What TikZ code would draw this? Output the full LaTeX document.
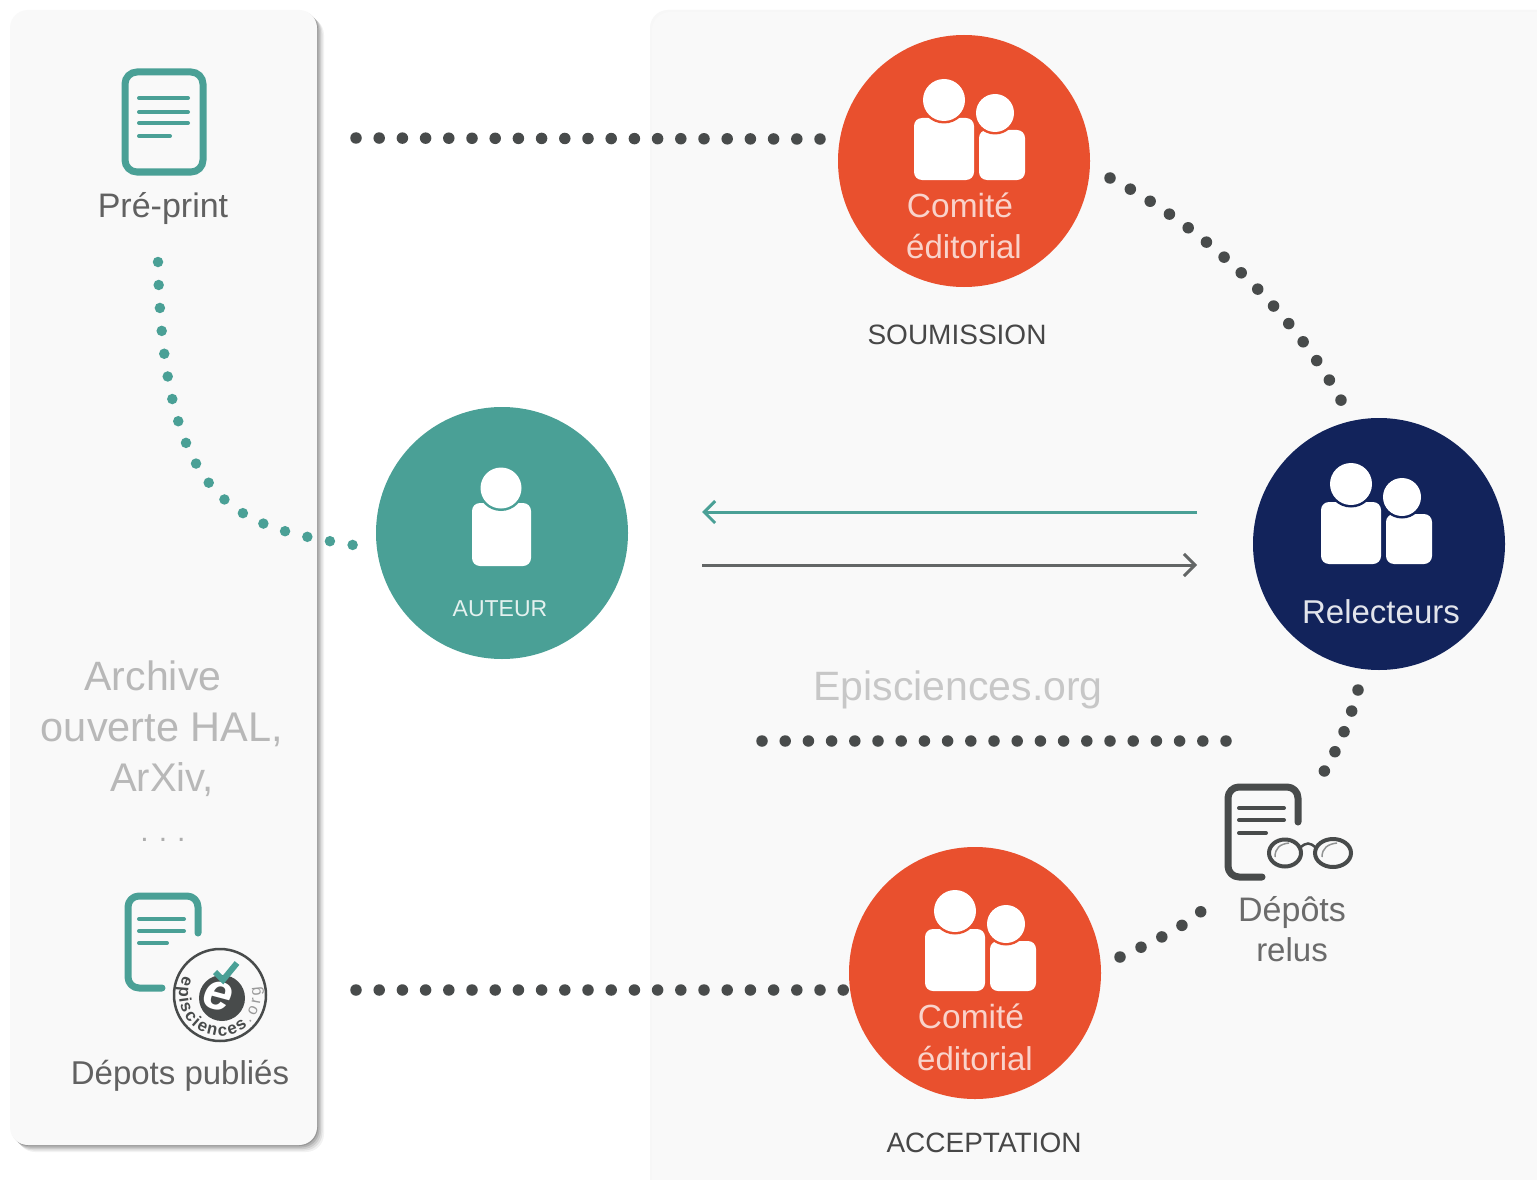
\documentclass[tikz,border=0pt]{standalone}
\usepackage{fontspec}
\setmainfont{Liberation Sans}
\usetikzlibrary{arrows.meta,decorations.text}
\definecolor{orangeC}{HTML}{E9502E}
\definecolor{tealC}{HTML}{4AA096}
\definecolor{navyC}{HTML}{12235B}
\definecolor{darkC}{HTML}{484B4B}
\definecolor{panelC}{HTML}{F9F9F9}
\tikzset{
  panel/.style={fill=panelC,rounded corners=18pt},
  disc/.style={circle,minimum size=252pt,inner sep=0pt},
  txt/.style={anchor=base,inner sep=0pt,align=center},
  dots/.style={line width=11.5pt,line cap=round,dash pattern=on 0pt off 23.2pt,draw=darkC},
  tealdots/.style={line width=10.5pt,line cap=round,dash pattern=on 0pt off 23pt,draw=tealC},
  doc/.style={line width=7pt,line cap=round,line join=round,rounded corners=11pt},
  docline/.style={line width=4pt,line cap=round},
  flow/.style={line width=3pt,-{Straight Barb[length=11pt,width=22pt,line width=3pt]}},
}
\newcommand{\fs}[1]{\fontsize{#1}{#1}\selectfont}
% two people icon, #1 = dx, #2 = dy of reference (icon of the upper committee), #3 = ground colour
\newcommand{\peopleicon}[3]{%
  \begin{scope}[shift={(#1,#2)}]
    \fill[white,rounded corners=8pt] (979,130) rectangle (1025,180);
    \fill[white,rounded corners=8pt] (914,118) rectangle (974,180);
    \fill[#3] (944,100) circle[radius=23.5pt];
    \fill[#3] (995,113) circle[radius=21.5pt];
    \fill[white] (944,100) circle[radius=21pt];
    \fill[white] (995,113) circle[radius=19pt];
  \end{scope}}
\begin{document}
\begin{tikzpicture}[x=1pt,y=-1pt]
\useasboundingbox (0,0) rectangle (1537,1180);
\fill[white] (0,0) rectangle (1537,1180);
% left panel shadow and panels
\foreach \d/\o in {7/.05,5.5/.07,4/.09,2.5/.12,1/.15}
  \fill[black,opacity=\o,rounded corners=18pt] (10+\d,10+\d) rectangle (317+\d,1145+\d);
\fill[panel] (10,10) rectangle (317,1145);
\fill[black!3,rounded corners=18pt] (650,10) rectangle (1560,1200);
\fill[panel] (652,12) rectangle (1560,1200);

% discs
\node[disc,fill=tealC] (auteur) at (502,533) {};
\node[disc,fill=orangeC] (com1) at (964,161) {};
\node[disc,fill=navyC] (rel) at (1379,544) {};
\node[disc,fill=orangeC] (com2) at (975,973) {};

% people icons
\peopleicon{0}{0}{orangeC}
\peopleicon{11}{811}{orangeC}
\peopleicon{407}{384}{navyC}
\fill[white,rounded corners=8pt] (472,503) rectangle (531,566);
\fill[tealC] (501,488) circle[radius=23pt];
\fill[white] (501,488) circle[radius=20.5pt];

% disc texts
\node[txt,text=orangeC!25!white] (t1) at (960,217) {\fs{33.5}Comité};
\node[txt,text=orangeC!25!white] (t2) at (964,258) {\fs{33}éditorial};
\node[txt,text=orangeC!25!white] (t3) at (971,1028) {\fs{33.5}Comité};
\node[txt,text=orangeC!25!white] (t4) at (975,1070) {\fs{33}éditorial};
\node[txt,text=tealC!15!white] (t5) at (500,616) {\fs{23}AUTEUR};
\node[txt,text=navyC!12!white] (t6) at (1381,623) {\fs{33}Relecteurs};

% labels
\node[txt,text=black!62] (preprint) at (163,217) {\fs{34}Pré-print};
\node[txt,text=black!72] (soum) at (957,344) {\fs{28}SOUMISSION};
\node[txt,text=black!72] (accept) at (984,1152) {\fs{28}ACCEPTATION};
\node[txt,text=black!22] (epi) at (958,700) {\fs{41}Episciences.org};
\node[txt,text=black!28] (a1) at (153,690) {\fs{41}Archive};
\node[txt,text=black!28] (a2) at (162,741) {\fs{41.5}ouverte HAL,};
\node[txt,text=black!28] (a3) at (162,791) {\fs{40}ArXiv,};
\node[txt,text=black!32] (a4) at (163,841) {\fs{30}.\,\,.\,\,.};
\node[txt,text=black!62] (pub) at (180,1084) {\fs{33}Dépots publiés};
\node[txt,text=black!58] (relus1) at (1292,921) {\fs{34}Dépôts};
\node[txt,text=black!58] (relus2) at (1292,961) {\fs{33}relus};

% pre-print icon
\draw[tealC,line width=7pt,rounded corners=12pt] (125,72) rectangle (203,172);
\foreach \yy/\xe in {98/188,112/188,123/188,136/170}
  \draw[tealC,docline] (139,\yy) -- (\xe,\yy);

% published deposit icon
\draw[tealC,doc] (198,933) -- (198,896) -- (128,896) -- (128,988) -- (162,988);
\foreach \yy/\xe in {919/184,931/184,943/167}
  \draw[tealC,docline] (139,\yy) -- (\xe,\yy);

% episciences stamp
\node[circle,draw=darkC,line width=2.5pt,fill=panelC,minimum size=92pt,inner sep=0pt] (stamp) at (220,995) {};
\fill[darkC] (222,998) circle[radius=23pt];
\node[inner sep=0pt,text=white,rotate=-15] (stampe) at (218,996) {\fs{52}\bfseries\itshape e};
\draw[tealC,line width=6pt] (215,972) -- (223,980) -- (237,963);
\path[decorate,decoration={text along path,text align={fit to path},
   text={|\fs{17}\color{darkC}\bfseries|episciences}}]
   ([shift={(152:41pt)}]220,995) arc[start angle=152,end angle=312,radius=41pt];
\path[decorate,decoration={text along path,text align={fit to path},
   text={|\fs{16}\color{black!40}|.org}}]
   ([shift={(316:41pt)}]220,995) arc[start angle=316,end angle=372,radius=41pt];

% reviewed deposit icon
\draw[darkC,doc] (1298,822) -- (1298,787) -- (1228,787) -- (1228,877) -- (1262,877);
\foreach \yy/\xe in {808/1284,820/1284,833/1266}
  \draw[darkC,docline] (1239,\yy) -- (\xe,\yy);
\draw[darkC,line width=4pt] (1285,853) ellipse[x radius=16pt,y radius=13.5pt];
\draw[darkC,line width=4pt] (1333,853) ellipse[x radius=18pt,y radius=14pt];
\draw[darkC,line width=2.5pt] (1300,848) .. controls (1306,842) and (1310,842) .. (1316,848);
\draw[darkC!60,line width=1.5pt] (1275,857) .. controls (1275,848) and (1280,844) .. (1289,843);
\draw[darkC!60,line width=1.5pt] (1322,857) .. controls (1322,848) and (1328,844) .. (1337,843);

% connector free ends
\coordinate (topstart) at (356,138);
\coordinate (botstart) at (356,990);
\coordinate (midstart) at (762,741);
\coordinate (midend) at (1228,741);
\coordinate (tealstart) at (158,262);
\coordinate (relin) at (1342,402);
\coordinate (comout) at (1110,178);
\coordinate (relout) at (1358,690);
\coordinate (glassin) at (1320,778);
\coordinate (comback) at (1120,957);
\coordinate (comin) at (1204,909);
\coordinate (autin) at (353,545);
\coordinate (ar1a) at (1197,512);
\coordinate (ar1b) at (702,512);
\coordinate (ar2a) at (702,565);
\coordinate (ar2b) at (1197,565);

% dotted connectors
\draw[dots,shorten >=17pt] (topstart) -- (com1.170);
\draw[dots] (botstart) -- (com2.west |- botstart);
\draw[dots] (midstart) -- (midend);
\draw[dots] (comout) .. controls (1195,222) and (1290,305) .. (relin);
\draw[dots,dash pattern=on 0pt off 22pt] (relout) .. controls (1350,720) and (1338,750) .. (glassin);
\draw[dots] (comback) .. controls (1150,943) and (1180,930) .. (comin);
\draw[tealdots] (tealstart) .. controls (163,511) and (240,527) .. (autin);

% arrows
\draw[flow,tealC] (ar1a) -- (ar1b);
\draw[flow,darkC!85] (ar2a) -- (ar2b);
\end{tikzpicture}
\end{document}
